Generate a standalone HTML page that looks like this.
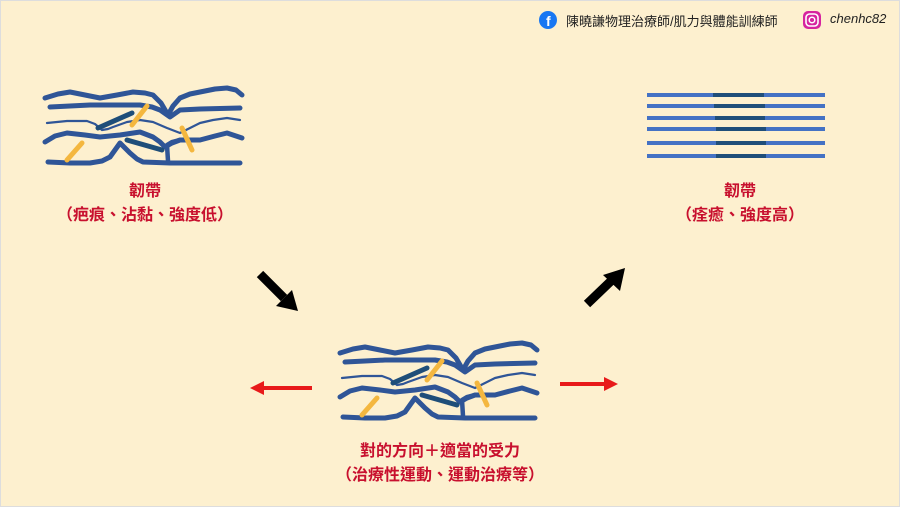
<!DOCTYPE html>
<html><head><meta charset="utf-8"><style>
body{margin:0;width:900px;height:507px;background:#fdf0cf;overflow:hidden;font-family:"Liberation Sans","Noto Sans CJK TC",sans-serif;position:relative}
.t{position:absolute;color:#c8102e;font-weight:bold;font-size:16px;text-align:center;line-height:24px;white-space:nowrap}
</style></head><body>
<div style="position:absolute;left:0;top:0;width:898px;height:505px;border:1px solid #ddd"></div>
<svg width="900" height="507" style="position:absolute;left:0;top:0">
<defs>
<g id="lig" fill="none" stroke-linecap="round" stroke-linejoin="round">
<polyline points="45,98 58,94 70,92 85,95 100,98 117,95 133,92 145,93 153,95 161,103 168,115 173,106 180,98 190,94 200,92 215,89 227,88 236,90 242,95" stroke="#2f5597" stroke-width="5"/>
<polyline points="50,107 70,106 90,105 115,105 140,105 152,107 160,110 170,117 180,110 200,109 240,108" stroke="#2f5597" stroke-width="5"/>
<polyline points="47,123 67,121 87,121 95,124 102,130 108,129 113,127 127,122 140,120 153,122 160,125 167,128 180,133 190,128 200,123 213,120 227,118 240,120" stroke="#2f5597" stroke-width="2.2"/>
<polyline points="45,142 55,136 67,133 85,135 100,137 120,135 140,132 153,137 160,142 165,147 172,143 180,140 200,140 215,136 227,133 242,138" stroke="#2f5597" stroke-width="5"/>
<polyline points="48,162 70,163 90,163 102,161 110,157 115,150 120,143 125,148 130,153 137,159 143,162 170,163 240,163" stroke="#2f5597" stroke-width="5"/>
<polyline points="168,161 167,145 172,142 180,140" stroke="#2f5597" stroke-width="4.5"/>
<path d="M98,128 L132,113 M127,140 L162,150" stroke="#1f4e79" stroke-width="5"/>
<path d="M132,125 L147,106 M67,160 L82,143 M182,128 L192,150" stroke="#f4b73f" stroke-width="5"/>
</g>
</defs>
<use href="#lig"/>
<use href="#lig" transform="translate(295,255)"/>
<g stroke-width="4">
<line x1="647" y1="95" x2="825" y2="95" stroke="#4472c4"/><line x1="713" y1="95" x2="764" y2="95" stroke="#1f4e79"/>
<line x1="647" y1="106" x2="825" y2="106" stroke="#4472c4"/><line x1="714" y1="106" x2="765" y2="106" stroke="#1f4e79"/>
<line x1="647" y1="118" x2="825" y2="118" stroke="#4472c4"/><line x1="715" y1="118" x2="765" y2="118" stroke="#1f4e79"/>
<line x1="647" y1="129" x2="825" y2="129" stroke="#4472c4"/><line x1="716" y1="129" x2="766" y2="129" stroke="#1f4e79"/>
<line x1="647" y1="143" x2="825" y2="143" stroke="#4472c4"/><line x1="716" y1="143" x2="766" y2="143" stroke="#1f4e79"/>
<line x1="647" y1="156" x2="825" y2="156" stroke="#4472c4"/><line x1="716" y1="156" x2="766" y2="156" stroke="#1f4e79"/>
</g>
<line x1="260" y1="274" x2="284" y2="298" stroke="#000" stroke-width="9"/>
<polygon points="298,311 276,306 292,290" fill="#000"/>
<line x1="587" y1="304" x2="611" y2="281" stroke="#000" stroke-width="9"/>
<polygon points="625,268 620,291 603,275" fill="#000"/>
<line x1="312" y1="388" x2="262" y2="388" stroke="#e81a1a" stroke-width="4"/>
<polygon points="250,388 264,381 264,395" fill="#e81a1a"/>
<line x1="560" y1="384" x2="606" y2="384" stroke="#e81a1a" stroke-width="4"/>
<polygon points="618,384 604,377 604,391" fill="#e81a1a"/>
<circle cx="548" cy="20" r="9" fill="#1877f2"/>
<text x="546" y="26" font-size="14" font-weight="bold" fill="#fff" font-family="Liberation Sans">f</text>
<rect x="803" y="11" width="18" height="18" rx="5" fill="#d6249f"/>
<rect x="806" y="14" width="12" height="12" rx="3.5" fill="none" stroke="#fff" stroke-width="1.6"/>
<circle cx="812" cy="20" r="2.8" fill="none" stroke="#fff" stroke-width="1.5"/>
</svg>
<div style="position:absolute;left:566px;top:11px;font-size:13px;color:#222;white-space:nowrap">陳曉謙物理治療師/肌力與體能訓練師</div>
<div style="position:absolute;left:830px;top:11px;font-size:13px;color:#222;font-style:italic">chenhc82</div>
<div class="t" style="left:45px;width:200px;top:180px">韌帶<br>（疤痕、沾黏、強度低）</div>
<div class="t" style="left:640px;width:200px;top:180px">韌帶<br>（痊癒、強度高）</div>
<div class="t" style="left:290px;width:300px;top:440px">對的方向＋適當的受力<br>（治療性運動、運動治療等）</div>
</body></html>
